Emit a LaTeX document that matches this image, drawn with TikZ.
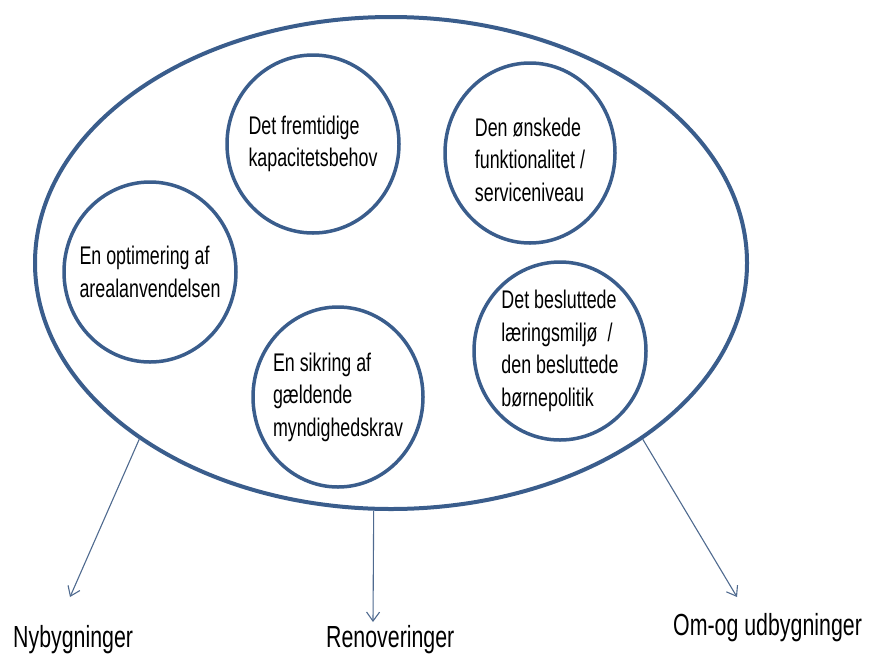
\documentclass[tikz,border=0pt]{standalone}
\usepackage{fontspec}
\setmainfont{Liberation Sans}[FakeStretch=0.70]
\usetikzlibrary{shapes.geometric,arrows.meta}
\definecolor{ringblue}{HTML}{3A5D8C}
\definecolor{feedblue}{HTML}{4F6A8F}

\begin{document}
\begin{tikzpicture}[x=1pt,y=-1pt,
  pool/.style={draw=ringblue,line width=4pt,ellipse,minimum width=712pt,minimum height=492pt},
  bubble/.style={draw=ringblue,line width=3.5pt,ellipse,inner sep=-15pt,align=left,font=\fontsize{25.5}{32.5}\selectfont},
  feed/.style={draw=feedblue,line width=1.1pt,-{Straight Barb[length=9pt,width=13pt]}},
  outcome/.style={inner sep=0pt,anchor=base west,font=\fontsize{30.5}{36}\selectfont}]
\useasboundingbox (0,0) rectangle (869,654);

\node[pool] (pool) at (391,263) {};

\node[bubble,minimum width=172pt,minimum height=178pt] (kap) at (313,144) {Det fremtidige\\kapacitetsbehov};
\node[bubble,minimum width=170pt,minimum height=180pt] (fun) at (530,153) {\rule{0pt}{32pt}Den ønskede\\funktionalitet /\\serviceniveau};
\node[bubble,minimum width=172pt,minimum height=180pt] (areal) at (150,272) {En optimering af\\arealanvendelsen};
\node[bubble,minimum width=170pt,minimum height=180pt] (krav) at (338,397) {En sikring af\\gældende\\myndighedskrav};
\node[bubble,minimum width=172pt,minimum height=178pt] (laer) at (560,351) {Det besluttede\\læringsmiljø~ /\\den besluttede\\børnepolitik};

\node[outcome] (nyb) at (13,647) {Nybygninger};
\node[outcome] (ren) at (326,647) {Renoveringer};
\node[outcome] (omud) at (673,635) {Om-og udbygninger};

\coordinate (nyb-tip) at (70,597);
\coordinate (ren-tip) at (373,622);
\coordinate (omud-tip) at (737,597);

\draw[feed] (pool.215) -- (nyb-tip);
\draw[feed] (pool.266) -- (ren-tip);
\draw[feed] (pool.325) -- (omud-tip);
\end{tikzpicture}
\end{document}
